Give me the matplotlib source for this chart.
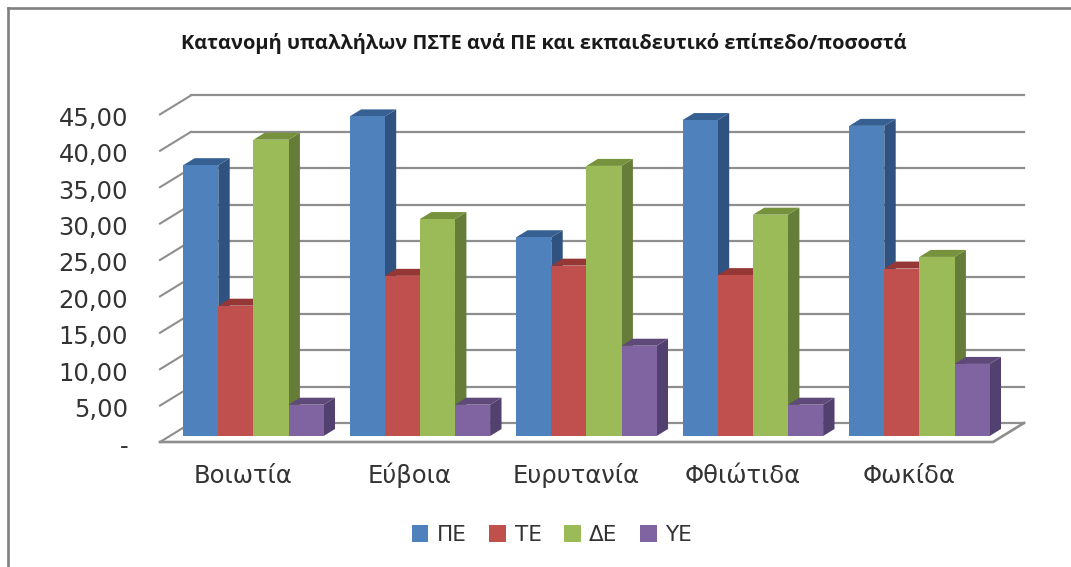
import matplotlib
matplotlib.use("Agg")
import matplotlib.pyplot as plt
from matplotlib.lines import Line2D
from matplotlib.patches import Polygon
from matplotlib.transforms import ScaledTranslation

# ---- data ----
regions = ["Βοιωτία", "Εύβοια", "Ευρυτανία", "Φθιώτιδα", "Φωκίδα"]
series_names = ["ΠΕ", "ΤΕ", "ΔΕ", "ΥΕ"]
pe = [37.2, 43.9, 27.3, 43.4, 42.6]
te = [17.9, 22.0, 23.4, 22.1, 23.0]
de = [40.7, 29.8, 37.1, 30.4, 24.6]
ye = [4.3, 4.3, 12.4, 4.3, 9.9]
series_values = [pe, te, de, ye]
ticks = [0, 5, 10, 15, 20, 25, 30, 35, 40, 45]
tick_labels = ["-", "5,00", "10,00", "15,00", "20,00", "25,00", "30,00", "35,00", "40,00", "45,00"]
title = "Κατανομή υπαλλήλων ΠΣΤΕ ανά ΠΕ και εκπαιδευτικό επίπεδο/ποσοστά"

# ---- style ----
front_cols = ["#4F81BD", "#C0504D", "#9BBB59", "#8064A2"]
side_cols = ["#2F5280", "#8A3634", "#657D38", "#52406E"]
top_cols = ["#366092", "#953735", "#76923C", "#5F497A"]
grid_col = "#8E8E8E"
text_col = "#333333"

W, H = 1071, 567
PX_PER_UNIT = 7.28
GROUP_PX = 166.5

fig = plt.figure(figsize=(W / 100, H / 100), dpi=100, facecolor="white")
ax = fig.add_axes([160 / W, (H - 436) / H, 833 / W, 341 / H])
ax.set_xlim(0, 833 / GROUP_PX)
ax.set_ylim(0, 341 / PX_PER_UNIT)
for s in ax.spines.values():
    s.set_visible(False)
ax.patch.set_alpha(0)

# depth of the fake 3D box, in data units
wall_dx, wall_dy = 31 / GROUP_PX, 13 / PX_PER_UNIT
floor_dy = -6 / PX_PER_UNIT
bar_dx, bar_dy = 11.4 / GROUP_PX, 7 / PX_PER_UNIT
bar_w = 35.1 / GROUP_PX
bar_shift = 0.061

# walls and floor
x_end = 833 / GROUP_PX
for t in ticks:
    ax.plot([wall_dx, x_end + wall_dx], [t + wall_dy, t + wall_dy], color=grid_col, lw=1.6, zorder=1, clip_on=False)
    ax.plot([0, wall_dx], [t + floor_dy, t + wall_dy], color=grid_col, lw=1.5, zorder=1, clip_on=False)
ax.plot([0, x_end, x_end + wall_dx], [floor_dy, floor_dy, wall_dy], color=grid_col, lw=1.9, zorder=1, clip_on=False)

# bars
handles = []
for i, (name, vals) in enumerate(zip(series_names, series_values)):
    xs = [k + 0.5 + bar_shift + (i - 1.5) * bar_w for k in range(len(regions))]
    z = 3 + i
    for x, v in zip(xs, vals):
        r = x + bar_w / 2
        l = x - bar_w / 2
        ax.add_patch(Polygon([(r, 0), (r + bar_dx, bar_dy), (r + bar_dx, v + bar_dy), (r, v)],
                             closed=True, facecolor=side_cols[i], edgecolor="none", zorder=z, clip_on=False))
        ax.add_patch(Polygon([(l, v), (l + bar_dx, v + bar_dy), (r + bar_dx, v + bar_dy), (r, v)],
                             closed=True, facecolor=top_cols[i], edgecolor="none", zorder=z, clip_on=False))
    b = ax.bar(xs, vals, width=bar_w, color=front_cols[i], zorder=z, label=name, clip_on=False)
    handles.append(b)

# axes labels
ax.set_xticks([k + 0.5 for k in range(len(regions))])
ax.set_xticklabels(regions, fontsize=17.5, color=text_col, va="baseline")
ax.tick_params(axis="x", length=0, pad=34)
ax.set_yticks(ticks)
ax.set_yticklabels(tick_labels, fontsize=17.5, color=text_col)
ax.tick_params(axis="y", length=0, pad=23)
for lab in ax.get_yticklabels():
    lab.set_transform(lab.get_transform() + ScaledTranslation(0, -8 / 100, fig.dpi_scale_trans))

# frame
for xs_, ys_ in [((8 / W, 8 / W), (0, 1 - 8 / H)), ((8 / W, 1), (1 - 8 / H, 1 - 8 / H))]:
    fig.add_artist(Line2D(xs_, ys_, color="#808080", lw=1.9, transform=fig.transFigure))

fig.text(544 / W, 1 - 43 / H, title, ha="center", va="center", fontsize=14.4,
         fontweight="bold", family="Open Sans", color="#1a1a1a")

fig.legend(handles=handles, labels=series_names, loc="center", bbox_to_anchor=(552 / W, 1 - 535 / H),
           ncols=4, frameon=False, fontsize=15.5, handlelength=0.77, handleheight=0.77,
           handletextpad=0.4, columnspacing=1.05, labelcolor=text_col)

fig.savefig("out.png", dpi=100, facecolor="white")
